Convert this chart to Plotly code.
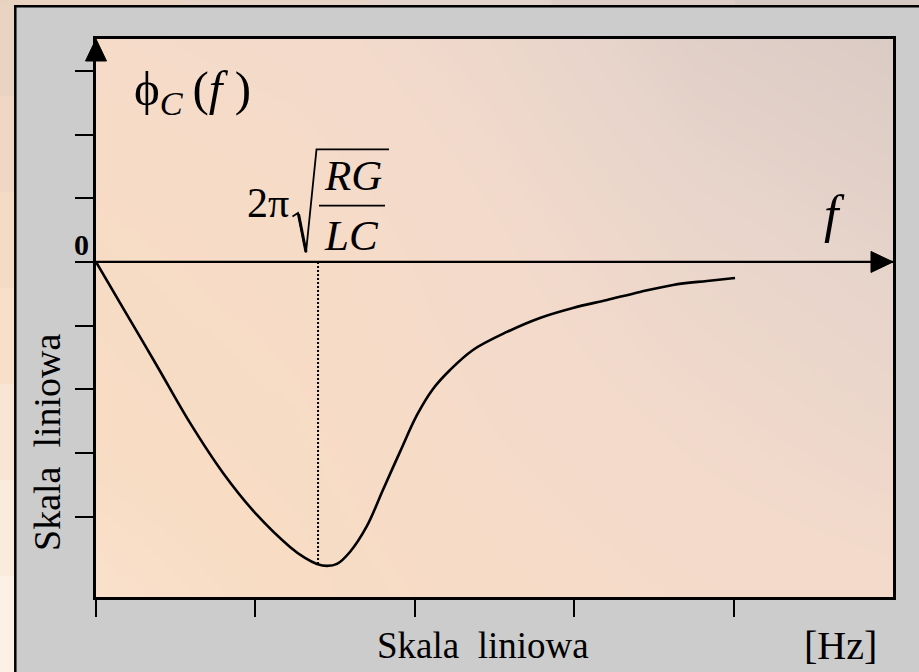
import plotly.graph_objects as go

W, H = 919, 672

# Phase characteristic phi_C(f) of the line, sampled along the frequency axis
freq = [0.0, 0.169, 0.383, 0.590, 0.797, 1.010, 1.217, 1.311, 1.386, 1.449,
        1.512, 1.593, 1.700, 1.800, 1.907, 2.014, 2.114, 2.221, 2.365, 2.578,
        2.785, 2.992, 3.206, 3.413, 3.620, 3.833, 4.009]
phase = [0.0, -0.722, -1.633, -2.527, -3.312, -3.972, -4.474, -4.647, -4.741, -4.772,
         -4.741, -4.553, -4.144, -3.579, -2.982, -2.402, -1.994, -1.696, -1.382, -1.099,
         -0.879, -0.722, -0.597, -0.471, -0.361, -0.298, -0.251]

# characteristic frequency 2*pi*sqrt(RG/LC) and the phase reached there
f_char = 1.393
phase_char = -4.74

x_ticks = [0, 1, 2, 3, 4]
y_ticks = [-4, -3, -2, -1, 0, 1, 2, 3]
x_range = [0, 5]
y_range = [-5.26, 3.5]

# plot-area box in pixels (left, right, top, bottom)
PL, PR, PT, PB = 96, 893, 39, 597


def px(x):
    return x / W


def py(y):
    return 1 - y / H


fig = go.Figure()

# soft slide-like background inside the axes
bg_x = [-0.1, 1.25, 2.5, 3.75, 5.1]
bg_y = [-5.4, -2.5, 0.5, 3.6]
bg_z = [[0.20, 0.30, 0.40, 0.48, 0.52],
        [0.30, 0.35, 0.48, 0.58, 0.68],
        [0.35, 0.40, 0.55, 0.70, 0.80],
        [0.45, 0.52, 0.65, 0.85, 0.95]]
bg_scale = [[0.0, "#fcecdd"], [0.3, "#f8dcc4"], [0.55, "#f3dacb"],
            [0.75, "#e7d4cb"], [1.0, "#d6c8c2"]]
fig.add_trace(go.Heatmap(x=bg_x, y=bg_y, z=bg_z, colorscale=bg_scale, zmin=0, zmax=1,
                         zsmooth="best", showscale=False, hoverinfo="skip"))

# dotted marker of the characteristic frequency
fig.add_trace(go.Scatter(x=[f_char, f_char], y=[0, phase_char], mode="lines",
                         line=dict(color="black", width=2, dash="2px,2px"),
                         hoverinfo="skip", showlegend=False))

# phase curve
fig.add_trace(go.Scatter(x=freq, y=phase, mode="lines",
                         line=dict(color="black", width=2.6, shape="spline", smoothing=1.0),
                         hoverinfo="skip", showlegend=False))

shapes = []

# slide strips outside the grey frame
left_cols = ["#e9d3c1", "#efd7c3", "#f4dbc6", "#f7dfca", "#f9e5d3", "#fbebdc", "#fdf1e6"]
n = len(left_cols)
for i, c in enumerate(left_cols):
    shapes.append(dict(type="rect", xref="paper", yref="paper", layer="below",
                       x0=0, x1=px(15), y0=1 - (i + 1) / n - 0.002, y1=1 - i / n,
                       fillcolor=c, line_width=0))
top_cols = ["#e8d2c0", "#e8d4c6", "#e4d3ca", "#dccdc7", "#d5c7c2"]
n = len(top_cols)
for i, c in enumerate(top_cols):
    shapes.append(dict(type="rect", xref="paper", yref="paper", layer="below",
                       x0=i / n, x1=(i + 1) / n + 0.002, y0=py(6), y1=1,
                       fillcolor=c, line_width=0))

# black outline of the grey frame
shapes.append(dict(type="line", xref="paper", yref="paper", x0=px(15.3), x1=px(15.3),
                   y0=py(5), y1=0, line=dict(color="black", width=2.5)))
shapes.append(dict(type="line", xref="paper", yref="paper", x0=px(14), x1=1,
                   y0=py(6.3), y1=py(6.3), line=dict(color="black", width=2.5)))

# horizontal f axis through zero
shapes.append(dict(type="line", xref="x", yref="y", x0=x_range[0], x1=x_range[1],
                   y0=0, y1=0, layer="above", line=dict(color="black", width=2.2)))

# arrow heads of both axes
y0_px = PT + (y_range[1] - 0) / (y_range[1] - y_range[0]) * (PB - PT)
shapes.append(dict(type="path", xref="paper", yref="paper", layer="above",
                   path=(f"M {px(PR)},{py(y0_px)} L {px(PR - 22)},{py(y0_px - 10.5)} "
                         f"L {px(PR - 22)},{py(y0_px + 10.5)} Z"),
                   fillcolor="black", line=dict(color="black", width=1)))
shapes.append(dict(type="path", xref="paper", yref="paper", layer="above",
                   path=(f"M {px(PL)},{py(PT)} L {px(PL - 10.5)},{py(PT + 22)} "
                         f"L {px(PL + 10.5)},{py(PT + 22)} Z"),
                   fillcolor="black", line=dict(color="black", width=1)))

# radical sign and fraction bar of 2*pi*sqrt(RG/LC)
shapes.append(dict(type="path", xref="paper", yref="paper", layer="above",
                   path=(f"M {px(292.5)},{py(216.5)} L {px(298)},{py(213)} "
                         f"L {px(306)},{py(252.5)} L {px(316.5)},{py(149.3)} "
                         f"L {px(389)},{py(149.3)}"),
                   line=dict(color="black", width=1.8)))
shapes.append(dict(type="line", xref="paper", yref="paper", layer="above",
                   x0=px(298.5), x1=px(306), y0=py(214), y1=py(252),
                   line=dict(color="black", width=3)))
shapes.append(dict(type="line", xref="paper", yref="paper", layer="above",
                   x0=px(319), x1=px(385), y0=py(205.7), y1=py(205.7),
                   line=dict(color="black", width=1.8)))

serif = "Liberation Serif"


def note(text, x, y, size, xanchor="center", yanchor="middle", angle=0):
    return dict(text=text, x=px(x), y=py(y), xref="paper", yref="paper",
                showarrow=False, xanchor=xanchor, yanchor=yanchor, textangle=angle,
                font=dict(family=serif, size=size, color="black"))


annotations = [
    note("ϕ<sub><i>C</i></sub>\u2009(<i>f</i>\u2005)", 132, 92, 49, xanchor="left"),
    note("2π", 291, 203, 42, xanchor="right"),
    note("<i>RG</i>", 353, 176, 43),
    note("<i>LC</i>", 351, 235, 43),
    note("<i>f</i>", 834, 214, 52),
    note("<b>0</b>", 81, 245, 30),
    note("Skala  liniowa", 375, 645, 37, xanchor="left"),
    note("[Hz]", 802, 645, 40, xanchor="left"),
    note("Skala  liniowa", 47, 442, 38, angle=-90),
]

fig.update_layout(
    width=W, height=H, autosize=False,
    margin=dict(l=0, r=0, t=0, b=0, pad=0),
    paper_bgcolor="#cccccc", plot_bgcolor="rgba(0,0,0,0)",
    showlegend=False,
    shapes=shapes, annotations=annotations,
    xaxis=dict(domain=[px(PL), px(PR)], range=x_range, tickvals=x_ticks,
               ticks="outside", ticklen=17, tickwidth=2, tickcolor="black",
               showticklabels=False, showgrid=False, zeroline=False,
               showline=True, linecolor="black", linewidth=3, mirror=True,
               fixedrange=True),
    yaxis=dict(domain=[py(PB), py(PT)], range=y_range, tickvals=y_ticks,
               ticks="outside", ticklen=18, tickwidth=2, tickcolor="black",
               showticklabels=False, showgrid=False, zeroline=False,
               showline=True, linecolor="black", linewidth=3, mirror=True,
               fixedrange=True),
)

fig.write_html("out.html", config={"displayModeBar": False})
